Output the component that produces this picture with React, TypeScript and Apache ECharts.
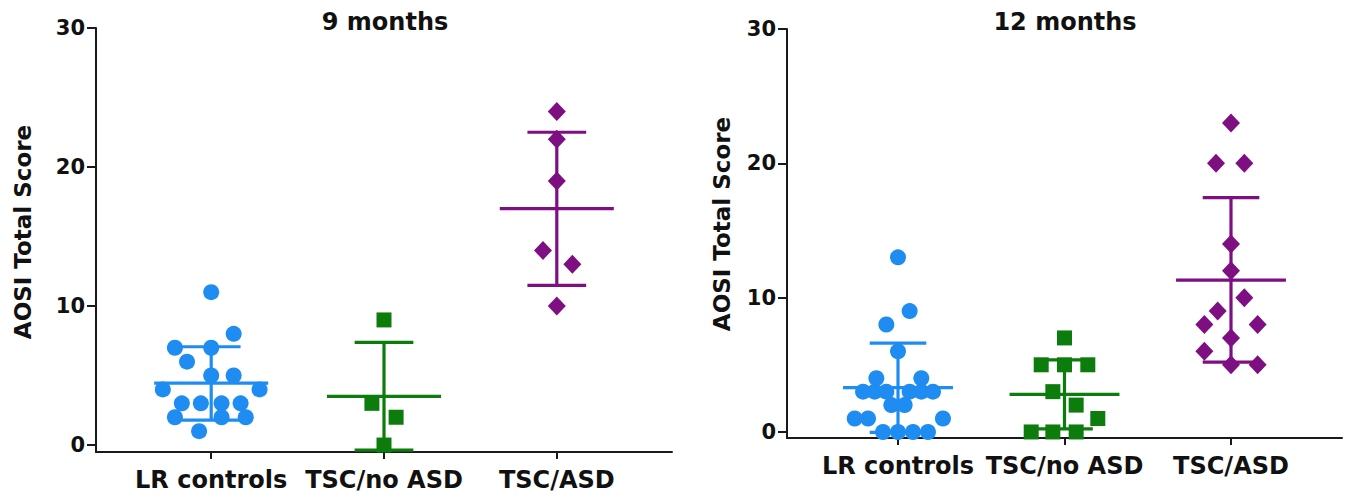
import React, { useEffect, useRef } from "react";
import * as echarts from "echarts";

// Category names and y ticks
const categories = ["LR controls", "TSC/no ASD", "TSC/ASD"];
const yTicks = [0, 10, 20, 30];
const xTicks = [1, 2, 3];

// 9 months: [category position (with jitter), AOSI total score]
const lr9: [number, number][] = [
  [1, 11], [1.13, 8], [0.79, 7], [1, 7], [0.86, 6], [1, 5], [1.13, 5],
  [0.72, 4], [1.28, 4], [0.83, 3], [0.94, 3], [1.06, 3], [1.17, 3],
  [0.79, 2], [1.06, 2], [1.2, 2], [0.93, 1],
];
const noAsd9: [number, number][] = [[2, 9], [1.93, 3], [2.07, 2], [2, 0]];
const asd9: [number, number][] = [[3, 24], [3, 22], [3, 19], [2.92, 14], [3.09, 13], [3, 10]];

// 12 months
const lr12: [number, number][] = [
  [1, 13], [1.07, 9], [0.93, 8], [1, 6], [0.87, 4], [1.14, 4],
  [0.79, 3], [0.86, 3], [0.93, 3], [1.07, 3], [1.14, 3], [1.21, 3],
  [0.96, 2], [1.04, 2], [0.74, 1], [0.82, 1], [1.27, 1],
  [0.91, 0], [1, 0], [1.09, 0], [1.18, 0],
];
const noAsd12: [number, number][] = [
  [2, 7], [1.86, 5], [2, 5], [2.14, 5], [1.93, 3], [2.07, 2], [2.2, 1],
  [1.8, 0], [1.93, 0], [2.07, 0],
];
const asd12: [number, number][] = [
  [3, 23], [2.91, 20], [3.08, 20], [3, 14], [3, 12], [3.08, 10], [2.92, 9],
  [2.84, 8], [3.16, 8], [3, 7], [2.84, 6], [3, 5], [3.16, 5],
];

// Mean and SD bars: [category, mean, lower, upper]
const meanSd9: number[][] = [[1, 4.45, 1.8, 7.07], [2, 3.5, -0.37, 7.38], [3, 17.0, 11.48, 22.5]];
const meanSd12: number[][] = [[1, 3.3, -0.03, 6.62], [2, 2.8, 0.23, 5.37], [3, 11.3, 5.2, 17.45]];

const groupColors = ["#1e8cf0", "#0c7d0c", "#7d0f83"];
const FONT = "DejaVu Sans";
const TEXT = "#111";
const AXIS = "#1a1a1a";
const MEAN_HALF = 0.33;
const CAP_HALF = 0.17;

export default function App() {
  const ref = useRef<HTMLDivElement>(null);
  useEffect(() => {
    if (!ref.current) return;
    const chart = echarts.init(ref.current, null, { renderer: "svg" });

    const xAxisFor = (gridIndex: number) => ({
      type: "value",
      gridIndex,
      min: 1 / 3,
      max: 11 / 3,
      splitLine: { show: false },
      axisLine: { show: true, onZero: false, lineStyle: { color: AXIS, width: 2 } },
      axisTick: { show: true, customValues: xTicks, length: 7, lineStyle: { color: AXIS, width: 2 } },
      axisLabel: {
        customValues: xTicks,
        margin: 16,
        color: TEXT,
        fontFamily: FONT,
        fontWeight: "bold",
        fontSize: 24,
        formatter: (v: number) => categories[Math.round(v) - 1] ?? "",
      },
    });
    const yAxisFor = (gridIndex: number, min: number) => ({
      type: "value",
      gridIndex,
      min,
      max: 30,
      splitLine: { show: false },
      axisLine: { show: true, onZero: false, lineStyle: { color: AXIS, width: 2 } },
      axisTick: { show: true, customValues: yTicks, length: 9, lineStyle: { color: AXIS, width: 2 } },
      axisLabel: {
        customValues: yTicks,
        margin: 11,
        color: TEXT,
        fontFamily: FONT,
        fontWeight: "bold",
        fontSize: 21,
      },
    });

    const scatter = (data: [number, number][], idx: number, g: number) => {
      const symbols = ["circle", "rect", "diamond"];
      const sizes: any[] = [16, 15, [18, 19]];
      return {
        type: "scatter",
        xAxisIndex: g,
        yAxisIndex: g,
        data,
        symbol: symbols[idx],
        symbolSize: sizes[idx],
        itemStyle: { color: groupColors[idx], opacity: 1 },
        z: 3,
      };
    };

    const bars = (data: number[][], g: number) => ({
      type: "custom",
      xAxisIndex: g,
      yAxisIndex: g,
      data,
      z: 2,
      renderItem: (params: any, api: any) => {
        const x = api.value(0);
        const m = api.value(1);
        const lo = api.value(2);
        const hi = api.value(3);
        const pm = api.coord([x, m]);
        const plo = api.coord([x, lo]);
        const phi = api.coord([x, hi]);
        const hm = api.size([MEAN_HALF, 0])[0];
        const hc = api.size([CAP_HALF, 0])[0];
        const style = { stroke: groupColors[params.dataIndex], lineWidth: 3.2 };
        return {
          type: "group",
          children: [
            { type: "line", shape: { x1: pm[0] - hm, y1: pm[1], x2: pm[0] + hm, y2: pm[1] }, style },
            { type: "line", shape: { x1: plo[0], y1: plo[1], x2: phi[0], y2: phi[1] }, style },
            { type: "line", shape: { x1: phi[0] - hc, y1: phi[1], x2: phi[0] + hc, y2: phi[1] }, style },
            { type: "line", shape: { x1: plo[0] - hc, y1: plo[1], x2: plo[0] + hc, y2: plo[1] }, style },
          ],
        };
      },
    });

    const textStyle = (text: string, size: number) => ({
      text,
      fill: TEXT,
      font: `bold ${size}px "${FONT}"`,
      textAlign: "center",
      textVerticalAlign: "middle",
    });

    chart.setOption({
      animation: false,
      backgroundColor: "#fff",
      grid: [
        { left: 96, top: 28, width: 576, height: 424 },
        { left: 787, top: 29, width: 555, height: 409 },
      ],
      xAxis: [xAxisFor(0), xAxisFor(1)],
      yAxis: [yAxisFor(0, -0.5), yAxisFor(1, -0.45)],
      graphic: [
        { type: "text", x: 385, y: 22, style: textStyle("9 months", 24) },
        { type: "text", x: 1065, y: 22, style: textStyle("12 months", 24) },
        { type: "text", x: 23, y: 232, rotation: Math.PI / 2, style: textStyle("AOSI Total Score", 23) },
        { type: "text", x: 722, y: 224, rotation: Math.PI / 2, style: textStyle("AOSI Total Score", 23) },
      ],
      series: [
        bars(meanSd9, 0),
        scatter(lr9, 0, 0),
        scatter(noAsd9, 1, 0),
        scatter(asd9, 2, 0),
        bars(meanSd12, 1),
        scatter(lr12, 0, 1),
        scatter(noAsd12, 1, 1),
        scatter(asd12, 2, 1),
      ],
    });
    return () => chart.dispose();
  }, []);
  return (
    <div
      ref={ref}
      style={{ position: "absolute", left: 0, top: 0, width: 1349, height: 498, background: "#fff" }}
    />
  );
}
